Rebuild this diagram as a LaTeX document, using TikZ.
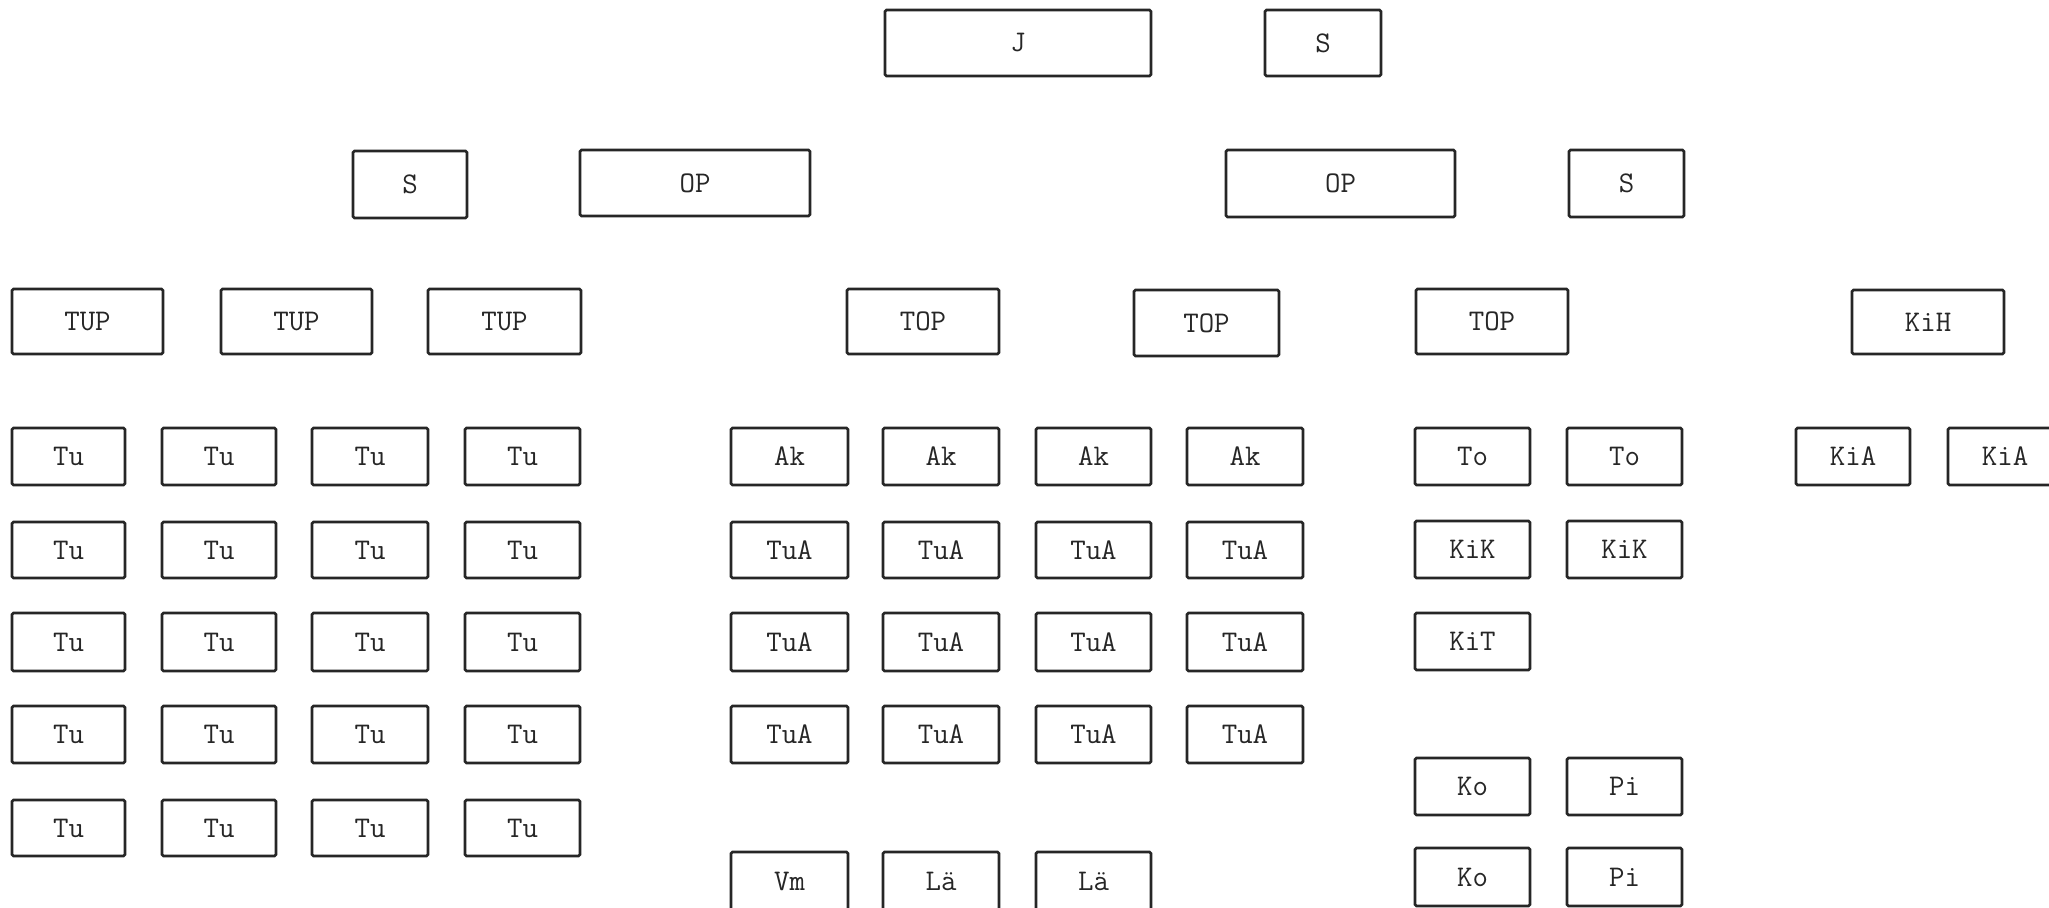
\documentclass[tikz,border=0pt]{standalone}
\usepackage{fontspec}
\setmonofont{Latin Modern Mono}
\tikzset{
  bx/.style={draw=black!85, line width=2.6pt, rounded corners=1.5pt, inner sep=0pt,
    font=\ttfamily\fontsize{30}{34}\selectfont, text=black!85, fill=white}
}
% \bx{name}{left}{top}{right}{bottom}{text}
\newcommand\bx[6]{\node[bx, minimum width={(#4-#2)*1pt}, minimum height={(#5-#3)*1pt}] (#1) at ({(#2+#4)/2},{-(#3+#5)/2}) {#6};}
\begin{document}
\begin{tikzpicture}[x=1pt,y=1pt]
\fill[white] (0,0) rectangle (2049,-907);
\useasboundingbox (0,0) rectangle (2049,-907);
% row 0
\bx{J}{885}{10}{1151}{76}{J}
\bx{S0}{1265}{10}{1381}{76}{S}
% row 1
\bx{S1}{353}{151}{467}{218}{S}
\bx{OP1}{580}{150}{810}{216}{OP}
\bx{OP2}{1226}{150}{1455}{217}{OP}
\bx{S2}{1569}{150}{1684}{217}{S}
% row 2
\bx{TUPa}{12}{289}{163}{354}{TUP}
\bx{TUPb}{221}{289}{372}{354}{TUP}
\bx{TUPc}{428}{289}{581}{354}{TUP}
\bx{TOPa}{847}{289}{999}{354}{TOP}
\bx{TOPb}{1134}{290}{1279}{356}{TOP}
\bx{TOPc}{1416}{289}{1568}{354}{TOP}
\bx{KiH}{1852}{290}{2004}{354}{KiH}
% Tu grid
\foreach \r/\t/\b in {1/428/485,2/522/578,3/613/671,4/706/763,5/800/856}{
  \foreach \c/\l/\rr in {1/12/125,2/162/276,3/312/428,4/465/580}{
    \bx{Tu\r\c}{\l}{\t}{\rr}{\b}{Tu}
  }
}
% Ak / TuA grid
\foreach \c/\l/\rr in {1/731/848,2/883/999,3/1036/1151,4/1187/1303}{
  \bx{Ak\c}{\l}{428}{\rr}{485}{Ak}
  \foreach \r/\t/\b in {2/522/578,3/613/671,4/706/763}{
    \bx{TuA\r\c}{\l}{\t}{\rr}{\b}{TuA}
  }
}
\bx{Vm}{731}{852}{848}{910}{Vm}
\bx{La1}{883}{852}{999}{910}{Lä}
\bx{La2}{1036}{852}{1151}{910}{Lä}
% To column
\bx{To1}{1415}{428}{1530}{485}{To}
\bx{To2}{1567}{428}{1682}{485}{To}
\bx{KiK1}{1415}{521}{1530}{578}{KiK}
\bx{KiK2}{1567}{521}{1682}{578}{KiK}
\bx{KiT}{1415}{613}{1530}{670}{KiT}
\bx{Ko1}{1415}{758}{1530}{815}{Ko}
\bx{Pi1}{1567}{758}{1682}{815}{Pi}
\bx{Ko2}{1415}{848}{1530}{906}{Ko}
\bx{Pi2}{1567}{848}{1682}{906}{Pi}
% KiA
\bx{KiA1}{1796}{428}{1910}{485}{KiA}
\bx{KiA2}{1948}{428}{2062}{485}{KiA}
\end{tikzpicture}
\end{document}
